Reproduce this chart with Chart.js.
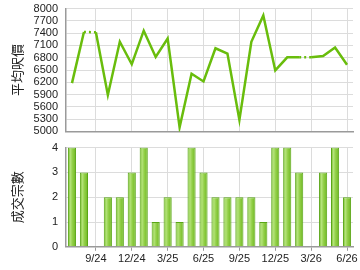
<!DOCTYPE html>
<html>
<head>
<meta charset="utf-8">
<script src="https://cdn.jsdelivr.net/npm/chart.js@4/dist/chart.umd.min.js"></script>
<style>
  html, body { margin: 0; padding: 0; background: #fff; }
  #wrap { position: relative; width: 360px; height: 270px; overflow: hidden; }
  #top { position: absolute; left: 0; top: -6px; width: 360px; height: 152px; }
  #bottom { position: absolute; left: 0; top: 133px; width: 360px; height: 139px; }
</style>
</head>
<body>
<div id="wrap">
  <div id="top"><canvas id="priceChart"></canvas></div>
  <div id="bottom"><canvas id="countChart"></canvas></div>
</div>
<script>
const months = [
  "7/24", "8/24", "9/24", "10/24", "11/24", "12/24",
  "1/25", "2/25", "3/25", "4/25", "5/25", "6/25",
  "7/25", "8/25", "9/25", "10/25", "11/25", "12/25",
  "1/26", "2/26", "3/26", "4/26", "5/26", "6/26",
];
const quarterLabels = ["9/24", "12/24", "3/25", "6/25", "9/25", "12/25", "3/26", "6/26"];
const avgPrice = [
  6180, 7430, 7420, 5890, 7190, 6640,
  7460, 6820, 7270, 5100, 6410, 6220,
  7030, 6900, 5280, 7190, 7830, 6490,
  6810, 6810, 6810, 6840, 7050, 6630,
];
const deals = [
  4, 3, 0, 2, 2, 3,
  4, 1, 2, 1, 4, 3,
  2, 2, 2, 2, 1, 4,
  4, 3, 0, 3, 4, 2,
];
const priceTicks = [5000, 5300, 5600, 5900, 6200, 6500, 6800, 7100, 7400, 7700, 8000];
const dealTicks = [0, 1, 2, 3, 4];

const FONT = "'Liberation Sans', Arial, sans-serif";
const isQuarter = (i) => quarterLabels.includes(months[i]);
const gridColor = "#dcdcdc";
const axisColor = "#9a9a9a";

const fixWidth = (scale) => { scale.width = 55; };

new Chart(document.getElementById("priceChart").getContext("2d"), {
  type: "line",
  data: {
    labels: months,
    datasets: [
      {
        data: avgPrice,
        borderColor: "#69bd0c",
        borderWidth: 2.5,
        pointRadius: 0,
        tension: 0,
        segment: {
          // months without deals are drawn dotted
          borderDash: (ctx) => (deals[ctx.p1DataIndex] === 0 ? [2, 3] : undefined),
        },
      },
    ],
  },
  options: {
    responsive: true,
    maintainAspectRatio: false,
    animation: false,
    layout: { padding: { left: 11, right: 7, top: 0, bottom: 0 } },
    plugins: { legend: { display: false }, tooltip: { enabled: false } },
    scales: {
      x: {
        offset: true,
        grid: {
          offset: false,
          drawTicks: false,
          color: (ctx) => (ctx.tick && isQuarter(ctx.index) ? gridColor : "rgba(0,0,0,0)"),
        },
        border: { color: axisColor, width: 1.5 },
        ticks: { display: false, autoSkip: false },
      },
      y: {
        min: 5000,
        max: 8000,
        afterFit: fixWidth,
        afterBuildTicks: (scale) => { scale.ticks = priceTicks.map((v) => ({ value: v })); },
        grid: { color: gridColor, drawTicks: false },
        border: { color: axisColor, width: 1.5 },
        ticks: {
          autoSkip: false,
          padding: 8,
          color: "#222",
          font: { family: FONT, size: 11 },
          callback: (v) => String(v),
        },
        title: {
          display: true,
          text: "平均呎價",
          color: "#222",
          padding: { top: 0, bottom: 0 },
          font: { family: "'Noto Sans CJK TC', sans-serif", size: 13, lineHeight: 1 },
        },
      },
    },
  },
});

const barFill = (ctx) => {
  const chart = ctx.chart;
  const xs = chart.scales.x;
  if (!chart.chartArea || !xs) return "#92cf44";
  const cx = xs.getPixelForValue(ctx.dataIndex);
  const w = (xs.width / months.length) * 0.68;
  const g = chart.ctx.createLinearGradient(cx - w / 2, 0, cx + w / 2, 0);
  g.addColorStop(0, "#6cb71e");
  g.addColorStop(0.3, "#b4e37a");
  g.addColorStop(0.55, "#94d04a");
  g.addColorStop(1, "#6cb71e");
  return g;
};

new Chart(document.getElementById("countChart").getContext("2d"), {
  type: "bar",
  data: {
    labels: months,
    datasets: [
      {
        data: deals,
        backgroundColor: barFill,
        borderColor: "#5aa616",
        borderWidth: 1,
        categoryPercentage: 1,
        barPercentage: 0.68,
      },
    ],
  },
  options: {
    responsive: true,
    maintainAspectRatio: false,
    animation: false,
    layout: { padding: { left: 11, right: 7, top: 0, bottom: 4 } },
    plugins: { legend: { display: false }, tooltip: { enabled: false } },
    scales: {
      x: {
        offset: true,
        grid: {
          offset: false,
          tickLength: 4,
          color: (ctx) => (ctx.tick && isQuarter(ctx.index) ? gridColor : "rgba(0,0,0,0)"),
          tickColor: (ctx) => (ctx.tick && isQuarter(ctx.index) ? axisColor : "rgba(0,0,0,0)"),
        },
        border: { color: axisColor, width: 1.5 },
        ticks: {
          autoSkip: false,
          maxRotation: 0,
          padding: 2,
          color: "#222",
          font: { family: FONT, size: 11 },
          callback: (v, i) => (isQuarter(i) ? months[i] : ""),
        },
      },
      y: {
        min: 0,
        max: 4,
        afterFit: fixWidth,
        afterBuildTicks: (scale) => { scale.ticks = dealTicks.map((v) => ({ value: v })); },
        grid: { color: gridColor, drawTicks: false },
        border: { color: axisColor, width: 1.5 },
        ticks: { autoSkip: false, padding: 8, color: "#222", font: { family: FONT, size: 11 } },
        title: {
          display: true,
          text: "成交宗數",
          color: "#222",
          padding: { top: 0, bottom: 0 },
          font: { family: "'Noto Sans CJK TC', sans-serif", size: 13, lineHeight: 1 },
        },
      },
    },
  },
});
</script>
</body>
</html>
